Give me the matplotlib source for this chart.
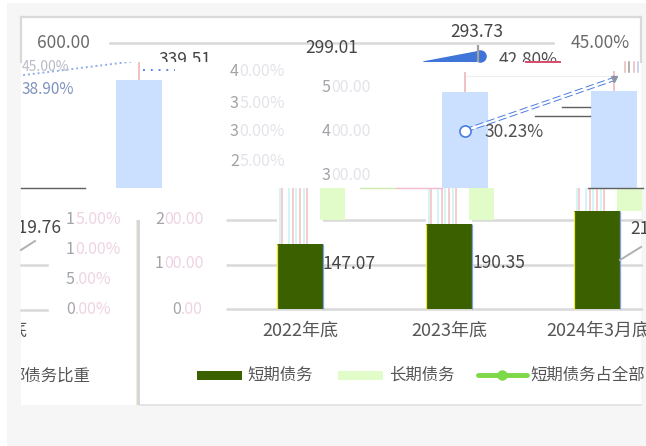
import matplotlib
matplotlib.use('Agg')
import matplotlib.pyplot as plt
import numpy as np
from matplotlib.lines import Line2D
from matplotlib.patches import Rectangle
from matplotlib.transforms import Affine2D

plt.rcParams['font.family'] = ['Noto Sans CJK SC', 'DejaVu Sans']

# 数据
periods = ['2022年底', '2023年底', '2024年3月底']
short_debt = [147.07, 190.35, 219.76]
long_debt = [339.51, 299.01, 293.73]
short_ratio = [30.23, 38.90, 42.80]
amount_ticks = [0, 100, 200, 300, 400, 500, 600]
ratio_ticks = [0, 5, 10, 15, 25, 30, 35, 40, 45]

W, H = 646, 446
fig = plt.figure(figsize=(W / 100, H / 100), dpi=100, facecolor='white')
px = Affine2D().scale(1, -1).translate(0, H)  # 图片像素坐标, 原点在左上角

DARK = '#3a6000'
LIGHT = '#e2fcc9'
BLUE = '#cbe0ff'
GRID = '#d9d9d9'
LABEL = '#505050'
PALE = '#e4e2e8'
PINK = '#eed3e2'


def new_axes(left, top, right, bottom, zorder):
    ax = fig.add_axes([left / W, 1 - bottom / H, (right - left) / W, (bottom - top) / H], zorder=zorder)
    ax.axis('off')
    ax.patch.set_visible(False)
    return ax


def rect(x0, y0, x1, y1, color, z=0):
    fig.add_artist(Rectangle((x0, y0), x1 - x0, y1 - y0, transform=px, fc=color, ec='none', zorder=z))


def seg(x0, y0, x1, y1, color, lw=1.0, z=1, **kw):
    fig.add_artist(Line2D([x0, x1], [y0, y1], transform=px, color=color, lw=lw, zorder=z, **kw))


def label(x, y, s, color=LABEL, ha='left', size=12.5, z=10):
    return fig.text(x, y, s, transform=px, color=color, ha=ha, va='center', fontsize=size, zorder=z)


def broken_tick(x, y, value, suffix='', tail=PALE):
    # 刻度文字大部分都花了, 只有第一位还看得清
    s = f'{value:.2f}{suffix}'
    label(x, y, s[0], color='#a3a3a8', size=11.5)
    label(x + 9, y, s[1:], color=tail, size=11.5)


# 背景
rect(7, 3, W, H, '#f6f6f6')
rect(21, 17, 641, 405, 'white')
seg(21, 17, 641, 17, GRID, 1.6)
seg(21, 17, 21, 62, GRID, 1.6)
seg(641, 17, 641, 62, GRID, 1.6)
seg(140, 405, 641, 405, '#e2e2e2', 1.2)
rect(136, 220, 140, 405, '#d6d6de', z=1)
seg(135.6, 220, 135.6, 405, '#f6f3c8', 0.6, z=1)

# 下半部分: 短期债务
unit = 148.5
bar_w = 46 / unit
val_per_px = 100 / 44.5
x = np.arange(3)
low_l, low_r = 226, 643
ax_low = new_axes(low_l, 188, low_r, 311, 2)
ax_low.set_xlim((low_l - 300) / unit, (low_r - 300) / unit)
ax_low.set_ylim(-2 * val_per_px, 121 * val_per_px)
ax_low.hlines([t for t in amount_ticks if t <= 200], *ax_low.get_xlim(), color=GRID, lw=1.8, zorder=1)
ax_low.bar(x, long_debt, bottom=short_debt, width=bar_w, color='white', zorder=2)
ax_low.bar(x + 32.5 / unit, long_debt, bottom=np.maximum(200, short_debt), width=25 / unit, color=LIGHT, zorder=2)
stripe_px = [-20, -18, -11, -7, -4, 0, 4, 7]
for i in x:
    for k, d in enumerate(stripe_px):
        ax_low.vlines(i + d / unit, short_debt[i], 300, color='#f7bdbd' if k % 2 else '#c6f3f3', lw=1.1, zorder=3)
ax_low.bar(x, short_debt, width=bar_w, color=DARK, zorder=4)
ax_low.vlines(x - bar_w / 2, 0, short_debt, color='#f2ea30', lw=0.9, zorder=5)
ax_low.vlines(x + bar_w / 2, 0, short_debt, color='#7f9fe8', lw=0.9, zorder=5)

# 上半部分: 长期债务, 错位显示
top_positions = [0, 1, (139 - 465) / unit]
ax_top = new_axes(21, 62, 641, 188, 3)
ax_top.set_xlim((21 - 465) / unit, (641 - 465) / unit)
ax_top.set_ylim(121 * val_per_px, 247 * val_per_px)
ax_top.bar(top_positions, long_debt, bottom=short_debt, width=bar_w, color=BLUE, zorder=2)
totals = np.add(short_debt, long_debt)
ax_top.vlines(top_positions, totals, totals + 20 * val_per_px, color='#eeb8b8', lw=1.2, zorder=3)

# 短期债务占比折线
ax_ratio = ax_top.twinx()
ax_ratio.axis('off')
ax_ratio.patch.set_visible(False)
ratio_per_px = 45 / 267
ax_ratio.set_ylim((310 - 188) * ratio_per_px, (310 - 62) * ratio_per_px)
line_x = [0, 1]
line_y = short_ratio[:2]
ax_ratio.plot(line_x, line_y, color='#4a7be0', lw=3.0, ls=(0, (2, 0.8)), zorder=4)
ax_ratio.plot(line_x, line_y, color='white', lw=1.6, zorder=5)
ax_ratio.plot(line_x[0], line_y[0], 'o', ms=8, mfc='white', mec='#4a7be0', mew=1.2, zorder=6)
ax_ratio.plot(line_x[1], line_y[1], 'v', ms=5, color='#8a93a8', zorder=6)
wrap_x = [top_positions[2] - 1, top_positions[2] + 0.25]
ax_ratio.plot(wrap_x, short_ratio[1:], color='#8fb0ea', lw=1.4, ls=(0, (1, 1.5)), zorder=4)

# 最上面一条
ax_head = new_axes(21, 17, 641, 62, 4)
ax_head.set_xlim(*ax_top.get_xlim())
ax_head.set_ylim((310 - 62) * ratio_per_px, (310 - 17) * ratio_per_px)
r3 = short_ratio[2]
ax_head.fill([0.1 - 0.38, 0.1, 0.1], [r3 - 1.0, r3 + 0.8, r3 - 1.0], color='#3f74d8', zorder=3)
ax_head.plot(0.1, r3, 'o', ms=8, color='#3f74d8', zorder=3)
ax_head.vlines(0.09, r3 - 1.2, r3 + 1.8, color='#a0a0a0', lw=1.6, zorder=4)
seg(110, 43, 553, 43, GRID, 1.8, z=3)

label(37, 43, f'{amount_ticks[6]:.2f}', color='#6a6a6a')
label(571, 43, f'{ratio_ticks[8]:.2f}%', color='#6a6a6a')
head_labels = [(185, 60), (332, 48), (477, 32)]
for (lx, ly), v in zip(head_labels, long_debt):
    ax_head.text(lx, ly, f'{v:.2f}', transform=px, color='#454545', ha='center', va='center', fontsize=12.5, clip_on=True, zorder=6)
ax_head.text(499, 60, f'{short_ratio[2]:.2f}%', transform=px, color='#505050', va='center', fontsize=12.5, clip_on=True, zorder=6)
seg(526, 61.5, 560, 61.5, '#d84a6a', 1.4, z=7)

label(484, 132, f'{short_ratio[0]:.2f}%')
label(322, 264, f'{short_debt[0]:.2f}', color='#454545')
label(472, 263, f'{short_debt[1]:.2f}', color='#454545')
label(630, 229, f'{short_debt[2]:.2f}', color='#454545')

# 花掉的刻度
for v, yy in zip(amount_ticks[3:6], [175, 131, 87]):
    broken_tick(322, yy, v)
for v, yy in zip(amount_ticks[1:3], [264, 220]):
    broken_tick(155, yy, v, tail=PINK)
broken_tick(172, 309, amount_ticks[0], tail=PINK)
for v, yy in zip(ratio_ticks[4:8], [162, 132, 103, 71]):
    broken_tick(230, yy, v, '%')
for v, yy in zip(ratio_ticks[1:4], [280, 250, 220]):
    broken_tick(66, yy, v, '%', tail=PINK)
broken_tick(66, 310, ratio_ticks[0], '%', tail=PINK)

# 左上角花掉的部分
label(22, 90, f'{short_ratio[1]:.2f}%', color='#7f92bd', size=11)
label(22, 67, f'{ratio_ticks[8]:.2f}%', color='#b9bcc6', size=10)
seg(143, 70, 175, 70, '#5b86e0', 1.4, z=6, ls=(0, (1, 3)))
seg(466, 76, 610, 76, '#eeeeee', 0.8, z=5)
for sx, sc in [(625, '#eeb8b8'), (629, '#9a9a9a'), (634, '#eeb8b8'), (638, '#b8c8ee')]:
    seg(sx, 62, sx, 72, sc, 1.1, z=6)

# 左边一块其实是图右端绕回来的
seg(21, 265, 47, 265, GRID, 1.8)
seg(21, 310, 47, 310, GRID, 1.8)
seg(21, 250, 35, 241, '#b0b0b0', 1.4)
seg(620, 260, 641, 247, '#b0b0b0', 1.4, z=6)
seg(21, 188, 85, 188, '#606060', 1.0, z=5)
seg(588, 188, 643, 188, '#606060', 1.0, z=5)
seg(562, 107, 590, 107, '#606060', 1.0, z=5)
seg(535, 116, 590, 116, '#606060', 1.0, z=5)
seg(396, 188, 442, 188, '#f2bcd0', 1.0, z=5)
seg(360, 188, 395, 188, '#cfe9b0', 1.0, z=5)

# 横轴
centers = [300.5, 449, 598]
for c, p in zip(centers, periods):
    label(c, 331, p, color='#555555', ha='center', size=13)
ax_left = new_axes(21, 200, 136, 405, 5)
ax_left.text(8, 228, f'{short_debt[2]:.2f}', transform=px, color='#454545', va='center', fontsize=12.5, clip_on=True)
ax_left.text(26, 331, '底', transform=px, color='#555555', ha='right', va='center', fontsize=13, clip_on=True)
ax_left.text(90, 376, '部债务比重', transform=px, color='#555555', ha='right', va='center', fontsize=11.8, clip_on=True)

# 图例
rect(197, 371, 242, 380, DARK, z=6)
label(247, 375, '短期债务', color='#555555', size=11.8)
rect(338, 371, 383, 380, LIGHT, z=6)
label(389, 375, '长期债务', color='#555555', size=11.8)
seg(478, 375, 527, 375, '#7ed948', 3.5, z=6, solid_capstyle='round')
fig.add_artist(Line2D([502], [375], transform=px, marker='o', ms=6.5, color='#7ed948', zorder=6))
label(530, 375, '短期债务占全部', color='#555555', size=11.8)

fig.savefig('out.png', dpi=100)
